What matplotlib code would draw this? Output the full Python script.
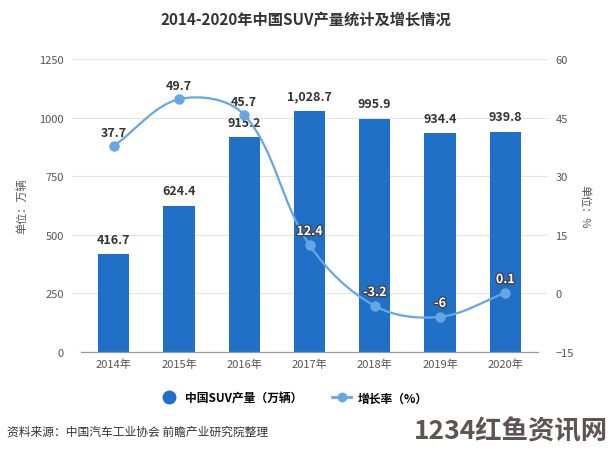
import numpy as np
import matplotlib
matplotlib.use("Agg")
import matplotlib.pyplot as plt
from matplotlib.path import Path
from matplotlib.patches import PathPatch
from matplotlib.lines import Line2D
import matplotlib.patheffects as pe

plt.rcParams['font.family'] = ['Noto Sans CJK SC', 'DejaVu Sans']

years = ['2014年', '2015年', '2016年', '2017年', '2018年', '2019年', '2020年']
output = [416.7, 624.4, 915.2, 1028.7, 995.9, 934.4, 939.8]
output_labels = ['416.7', '624.4', '915.2', '1,028.7', '995.9', '934.4', '939.8']
growth = [37.7, 49.7, 45.7, 12.4, -3.2, -6, 0.1]
growth_labels = ['37.7', '49.7', '45.7', '12.4', '-3.2', '-6', '0.1']

bar_color = '#1f70c6'
line_color = '#66a7e3'
grid_color = '#e3e3e3'
tick_color = '#555555'

fig = plt.figure(figsize=(6.12, 4.52), dpi=100)
ax = fig.add_axes([72 / 612, 99 / 452, 475 / 612, 293 / 452])
ax2 = ax.twinx()

x = np.arange(len(years))
ax.bar(x, output, width=0.48, color=bar_color, zorder=2)
ax.set_xlim(-0.64, 6.64)
ax.set_ylim(0, 1250)
ax.set_yticks(np.arange(0, 1251, 250))
ax.set_xticks(x)
ax.set_xticklabels(years)
ax2.set_ylim(-15, 60)
ax2.set_yticks(np.arange(-15, 61, 15))

for a in (ax, ax2):
    for s in a.spines.values():
        s.set_visible(False)
    a.tick_params(length=0, labelsize=8, colors=tick_color)
ax.tick_params(axis='y', pad=6)
ax2.tick_params(axis='y', pad=6)
ax.tick_params(axis='x', pad=5)
ax.yaxis.grid(True, color=grid_color, linewidth=0.8, zorder=0)
ax.set_axisbelow(True)
ax.plot([-0.5, 6.5], [0, 0], color='#999999', linewidth=0.9, zorder=3, clip_on=False)

for xi, v, t in zip(x, output, output_labels):
    ax.annotate(t, (xi, v), xytext=(0, 6), textcoords='offset points',
                ha='center', va='bottom', fontsize=9, fontweight='bold', color='#333333')

# smooth line (echarts-like bezier control points computed in pixel space)
pts = ax2.transData.transform(np.column_stack([x, growth]))
smooth = 0.35
cps = []
n = len(pts)
for i in range(n):
    p = pts[i]
    prev = pts[i - 1] if i > 0 else p
    nxt = pts[i + 1] if i < n - 1 else p
    v = (nxt - prev) * smooth
    d0 = np.hypot(*(p - prev))
    d1 = np.hypot(*(p - nxt))
    s = d0 + d1
    if s > 0:
        d0, d1 = d0 / s, d1 / s
    cps.append((p - v * d0, p + v * d1))
verts = [pts[0]]
codes = [Path.MOVETO]
for i in range(n - 1):
    verts += [cps[i][1], cps[i + 1][0], pts[i + 1]]
    codes += [Path.CURVE4] * 3
inv = ax2.transData.inverted()
path = Path(inv.transform(np.array(verts)), codes)
ax2.add_patch(PathPatch(path, fill=False, edgecolor=line_color, linewidth=1.6, zorder=4))
ax2.plot(x, growth, 'o', color=line_color, markersize=6.5, zorder=5)

for i, (xi, v, t) in enumerate(zip(x, growth, growth_labels)):
    if i < 3:
        ax2.annotate(t, (xi, v), xytext=(0, 5), textcoords='offset points',
                     ha='center', va='bottom', fontsize=9, fontweight='bold', color='#333333')
    else:
        ax2.annotate(t, (xi, v), xytext=(0, 5), textcoords='offset points',
                     ha='center', va='bottom', fontsize=9, fontweight='bold', color='white',
                     path_effects=[pe.withStroke(linewidth=2, foreground='#444444')], zorder=6)

fig.text(0.5, 1 - 20 / 452, '2014-2020年中国SUV产量统计及增长情况', ha='center', va='center',
         fontsize=11, fontweight='bold', color='#333333')
fig.text(22 / 612, 1 - 206 / 452, '单位：万辆', rotation=90, ha='center', va='center',
         fontsize=8, color=tick_color)
fig.text(585 / 612, 1 - 207 / 452, '单位：%', rotation=270, ha='center', va='center',
         fontsize=8, color=tick_color)

handles = [Line2D([], [], marker='o', linestyle='none', color=bar_color, markersize=9),
           Line2D([], [], marker='o', color=line_color, linewidth=2, markersize=6)]
fig.legend(handles, ['中国SUV产量（万辆）', '增长率（%）'], loc='center',
           bbox_to_anchor=(0.48, 1 - 399 / 452), ncol=2, frameon=False,
           handlelength=1.6, columnspacing=2.5, handletextpad=0.6,
           prop={'weight': 'bold', 'size': 8.5})

fig.text(7 / 612, 1 - 432 / 452, '资料来源：中国汽车工业协会 前瞻产业研究院整理', ha='left', va='center',
         fontsize=8.5, color='#333333')
fig.text(608 / 612, 1 - 432 / 452, '1234红鱼资讯网', ha='right', va='center',
         fontsize=19, fontweight='bold', color='#5e5454')

fig.savefig('out.png', dpi=100, facecolor='white')
